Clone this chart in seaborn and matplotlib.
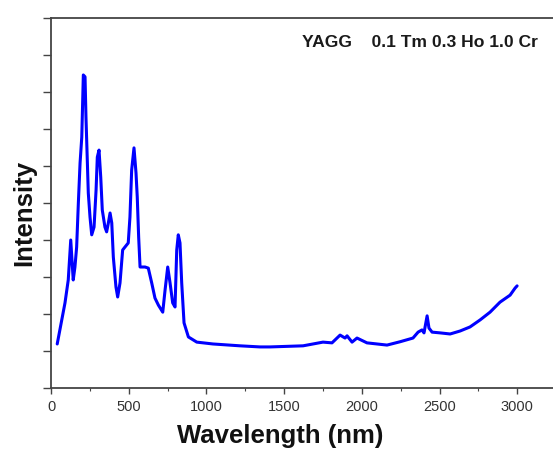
"""Absorption spectrum of YAGG doped with 0.1 Tm 0.3 Ho 1.0 Cr."""

import matplotlib

matplotlib.use("Agg")

import matplotlib.pyplot as plt
import pandas as pd
import seaborn as sns
from matplotlib.ticker import MultipleLocator

# values
wavelength = [
    40, 90, 111, 127, 143, 154, 165, 176, 187, 198, 204, 208, 219, 225, 240,
    251, 262, 277, 290, 298, 309, 320, 330, 347, 358, 369, 380, 391, 401, 418,
    429, 444, 461, 476, 497, 508, 519, 534, 547, 555, 564, 573, 605, 626, 648,
    669, 691, 719, 734, 751, 766, 783, 798, 809, 819, 830, 841, 856, 884, 938,
    1042, 1216, 1345, 1409, 1622, 1750, 1808, 1860, 1892, 1905, 1937, 1969,
    2033, 2162, 2246, 2329, 2362, 2387, 2400, 2420, 2432, 2452, 2503, 2568,
    2632, 2696, 2761, 2825, 2889, 2954, 2986, 2999,
]
intensity = [
    1.19, 2.30, 2.92, 4.00, 2.92, 3.27, 3.81, 5.00, 6.08, 6.78, 7.78, 8.46,
    8.41, 7.32, 5.27, 4.62, 4.14, 4.35, 5.35, 6.24, 6.43, 5.70, 4.81, 4.35,
    4.22, 4.46, 4.73, 4.46, 3.54, 2.73, 2.46, 2.84, 3.73, 3.81, 3.92, 4.62,
    5.89, 6.49, 5.81, 5.16, 4.08, 3.27, 3.27, 3.24, 2.84, 2.43, 2.24, 2.05,
    2.65, 3.27, 2.84, 2.30, 2.19, 3.73, 4.14, 3.92, 2.84, 1.76, 1.38, 1.24,
    1.19, 1.14, 1.11, 1.11, 1.14, 1.24, 1.22, 1.43, 1.35, 1.41, 1.24, 1.35,
    1.22, 1.16, 1.25, 1.35, 1.51, 1.57, 1.49, 1.95, 1.62, 1.51, 1.49, 1.46,
    1.54, 1.65, 1.84, 2.05, 2.32, 2.51, 2.70, 2.76,
]
sample_label = "YAGG    0.1 Tm 0.3 Ho 1.0 Cr"

sns.set_theme(style="ticks")
plt.rcParams["font.family"] = ["Liberation Sans", "DejaVu Sans"]

spectrum = pd.DataFrame({"wavelength": wavelength, "intensity": intensity})

fig = plt.figure(figsize=(5.53, 4.49), dpi=100)
ax = fig.add_axes([51 / 553, 61 / 449, 502 / 553, 370 / 449])

sns.lineplot(data=spectrum, x="wavelength", y="intensity", color="#0000ff", linewidth=2.2, ax=ax)

ax.set_xlim(0, 3230)
ax.set_ylim(0, 10)
ax.xaxis.set_major_locator(MultipleLocator(500))
ax.xaxis.set_minor_locator(MultipleLocator(250))
ax.yaxis.set_major_locator(MultipleLocator(1))
ax.set_yticklabels([])

for side in ("left", "bottom", "top"):
    ax.spines[side].set_color("#444444")
    ax.spines[side].set_linewidth(1.3)
ax.spines["right"].set_visible(False)

ax.tick_params(axis="x", which="major", length=4, width=1, color="#444444", labelsize=10.5, labelcolor="#333333", pad=4.5)
ax.tick_params(axis="x", which="minor", length=2.5, width=0.8, color="#444444")
ax.tick_params(axis="y", which="major", length=6, width=1, color="#444444")

ax.set_xlabel("Wavelength (nm)", fontsize=18.5, fontweight="bold", color="#111111")
ax.xaxis.set_label_coords(0.456, -0.098)
ax.set_ylabel("Intensity", fontsize=18.5, fontweight="bold", color="#111111")
ax.yaxis.set_label_coords(-0.030, 0.472)

ax.text(0.970, 0.934, sample_label, transform=ax.transAxes, ha="right", va="center",
        fontsize=12.6, fontweight="bold", color="#1a1a1a")

fig.savefig("out.png", dpi=100)
plt.close(fig)
